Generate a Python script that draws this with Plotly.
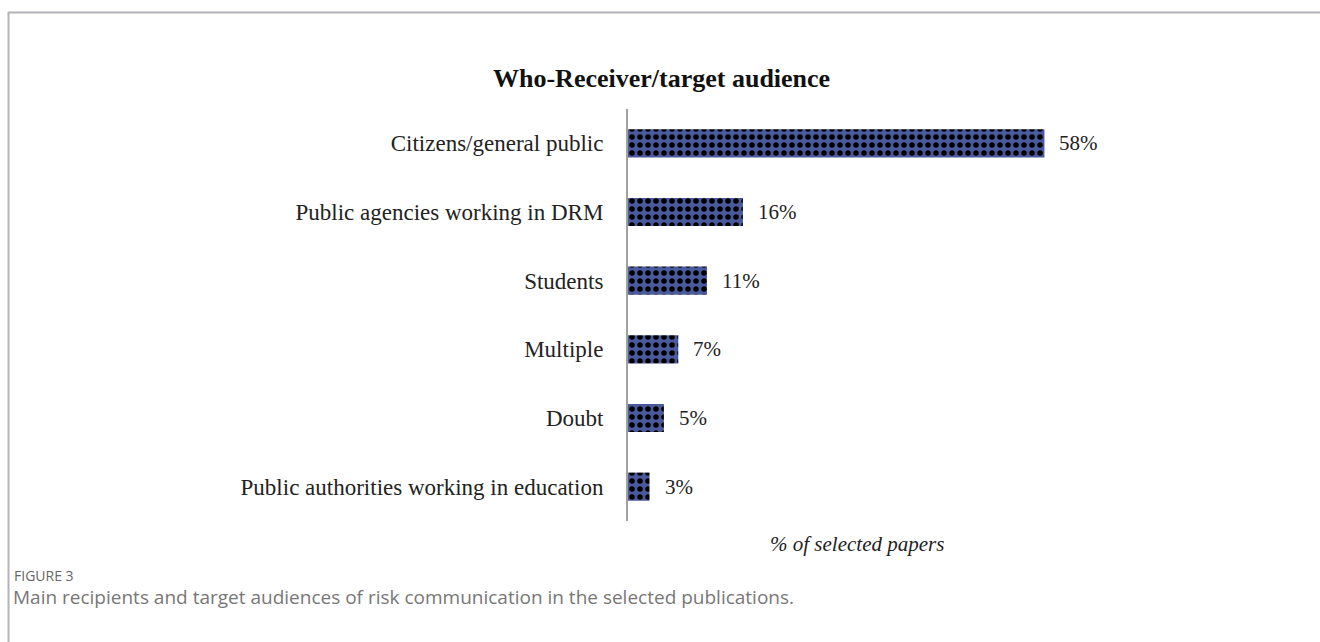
import plotly.graph_objects as go

# Audience categories (top to bottom) and share of selected papers (%)
categories = [
    "Citizens/general public",
    "Public agencies working in DRM",
    "Students",
    "Multiple",
    "Doubt",
    "Public authorities working in education",
]
shares = [58, 16, 11, 7, 5, 3]
value_labels = ["58%", "16%", "11%", "7%", "5%", "3%"]

title_text = "Who-Receiver/target audience"
axis_caption = "% of selected papers"
figure_tag = "FIGURE 3"
figure_caption = "Main recipients and target audiences of risk communication in the selected publications."

W, H = 1320, 642
serif = "Liberation Serif, Times New Roman, serif"
sans = "Open Sans, Noto Sans, sans-serif"

fig = go.Figure()
fig.add_trace(go.Bar(
    x=shares,
    y=categories,
    orientation="h",
    width=0.41,
    marker=dict(
        color="#4a5a9c",
        line=dict(width=0),
        pattern=dict(shape=".", fgcolor="#000000", fgopacity=1, size=8, solidity=0.38),
    ),
    hoverinfo="skip",
))

# value labels to the right of each bar
for cat, val, lab in zip(categories, shares, value_labels):
    fig.add_annotation(
        x=val, y=cat, xref="x", yref="y", text=lab, showarrow=False,
        xanchor="left", xshift=13, font=dict(family=serif, size=21, color="#222222"),
    )

x0_px, px_per_unit = 628, 7.18
x_max = 80
fig.update_xaxes(
    range=[0, x_max],
    domain=[x0_px / W, (x0_px + x_max * px_per_unit) / W],
    visible=False,
)
fig.update_yaxes(
    domain=[(H - 521) / H, (H - 109) / H],
    autorange="reversed",
    showline=True, linecolor="#a0a0a0", linewidth=2,
    showgrid=False, ticks="", ticklabelstandoff=18,
    tickfont=dict(family=serif, size=23, color="#222222"),
    zeroline=False,
)

# chart title
fig.add_annotation(
    x=661 / W, y=1 - 78 / H, xref="paper", yref="paper", showarrow=False,
    text="<b>" + title_text + "</b>", xanchor="center", yanchor="middle",
    font=dict(family=serif, size=26, color="#111111"),
)
# x-axis caption
fig.add_annotation(
    x=857 / W, y=1 - 544 / H, xref="paper", yref="paper", showarrow=False,
    text="<i>" + axis_caption + "</i>", xanchor="center", yanchor="middle",
    font=dict(family=serif, size=21, color="#222222"),
)
# figure caption
fig.add_annotation(
    x=12 / W, y=1 - 575 / H, xref="paper", yref="paper", showarrow=False,
    text=figure_tag, xanchor="left", yanchor="middle",
    font=dict(family=sans, size=14, color="#666666"),
)
fig.add_annotation(
    x=11 / W, y=1 - 597 / H, xref="paper", yref="paper", showarrow=False,
    text=figure_caption, xanchor="left", yanchor="middle",
    font=dict(family=sans, size=19, color="#777777"),
)

# frame lines (top and left)
fig.add_shape(type="line", xref="paper", yref="paper",
              x0=8 / W, x1=1, y0=1 - 12.5 / H, y1=1 - 12.5 / H,
              line=dict(color="#b4b4b8", width=2))
fig.add_shape(type="line", xref="paper", yref="paper",
              x0=8.5 / W, x1=8.5 / W, y0=0, y1=1 - 12 / H,
              line=dict(color="#b4b4b8", width=2))

fig.update_layout(
    width=W, height=H,
    margin=dict(l=0, r=0, t=0, b=0),
    paper_bgcolor="white", plot_bgcolor="white",
    showlegend=False,
)

fig.write_html("out.html")
